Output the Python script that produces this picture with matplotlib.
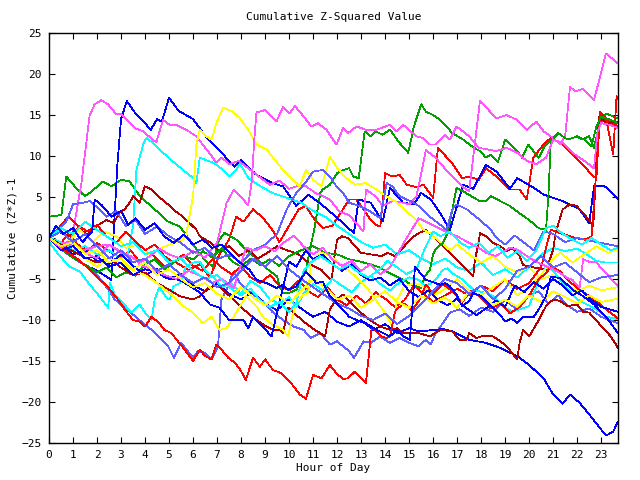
import numpy as np
import matplotlib
matplotlib.use("Agg")
import matplotlib.pyplot as plt

# each series: (hour, cumulative value) pairs
magenta_1 = [(0, 0), (0.5, -0.5), (0.9, -1.0), (1.35, 6.7), (1.69, 14.9), (1.9, 16.3), (2.18, 16.8), (2.46, 16.3),
             (2.8, 15.1), (3.0, 15.1), (3.23, 14.4), (3.57, 13.4), (3.92, 13.0), (4.4, 11.8), (4.47, 11.7), (4.75, 14.4),
             (5.03, 13.8), (5.3, 13.8), (5.72, 13.2), (6.13, 12.4), (6.62, 10.6), (6.97, 9.2), (7.18, 9.8), (7.53, 9.0),
             (7.9, 9.4), (8.3, 8.5), (8.7, 7.6), (9.2, 6.5), (9.6, 7.0), (10.0, 6.0), (10.3, 6.3), (10.7, 6.3),
             (11.1, 5.5), (11.7, 4.7), (12.1, 3.2), (12.5, 2.8), (12.8, 1.8), (13.1, 0.8), (13.2, 5.9), (13.6, 5.1),
             (13.9, 3.9), (14.3, 4.5), (14.75, 4.3), (15.0, 4.1), (15.3, 5.0), (15.7, 10.7), (16.1, 9.8), (16.6, 8.1),
             (17.2, 6.3), (17.5, 5.7), (17.95, 16.7), (18.64, 14.6), (19.06, 15.0), (19.5, 14.4), (19.9, 13.2),
             (20.3, 14.2), (20.6, 13.0), (21.0, 12.2), (21.3, 11.4), (21.5, 12.5), (21.7, 18.4), (21.95, 17.9),
             (22.25, 18.2), (22.7, 16.8), (23.2, 22.5), (23.7, 21.3)]
magenta_2 = [(0, 0), (0.4, -0.8), (0.9, -0.4), (1.4, -1.5), (2.0, -1.0), (2.5, -0.8), (3.0, -1.8), (3.4, -2.2),
             (3.8, -3.0), (4.2, -2.2), (4.6, -1.3), (5.0, -2.0), (5.5, -2.5), (6.0, -1.6), (6.5, -2.4), (7.0, -0.6),
             (7.4, 4.3), (7.7, 5.9), (8.0, 5.0), (8.3, 4.0), (8.45, 7.0), (8.55, 12.0), (8.64, 15.3), (8.99, 15.6),
             (9.47, 14.2), (9.75, 16.0), (10.03, 15.2), (10.24, 16.1), (10.5, 15.2), (10.93, 13.6), (11.2, 14.0),
             (11.56, 13.2), (11.97, 11.4), (12.25, 13.4), (12.46, 12.8), (12.81, 13.6), (13.2, 13.2), (13.64, 13.2),
             (14.2, 13.8), (14.47, 13.0), (14.75, 13.8), (15.3, 12.4), (15.58, 12.2), (15.85, 11.4), (16.1, 11.4),
             (16.5, 12.6), (16.7, 12.0), (16.98, 13.6), (17.5, 12.4), (17.9, 11.0), (18.64, 10.6), (19.06, 11.0),
             (19.5, 10.4), (19.9, 9.4), (20.3, 9.0), (20.7, 9.8), (21.0, 12.0), (21.4, 11.6), (21.9, 10.2),
             (22.3, 9.4), (22.7, 8.5), (22.85, 13.0), (23.0, 14.0), (23.35, 13.8), (23.7, 13.4)]
magenta_3 = [(0, 0), (0.5, -1.2), (1.0, -0.5), (1.5, -1.8), (2.0, -2.5), (2.5, -0.8), (2.95, -1.6), (3.2, -2.0),
             (3.6, -2.6), (3.8, -3.3), (4.3, -3.8), (4.8, -4.5), (5.3, -5.0), (5.8, -4.0), (6.3, -4.6), (6.8, -5.5),
             (7.2, -5.0), (7.7, -6.1), (8.2, -1.2), (8.6, -1.5), (9.0, -1.0), (9.4, -1.6), (9.8, -0.5), (10.2, 0.3),
             (10.6, -1.0), (11.0, -2.0), (11.4, -1.2), (11.8, -2.6), (12.2, -3.4), (12.6, -2.8), (13.0, -4.0),
             (13.4, -3.2), (13.8, -4.4), (14.2, -3.6), (14.6, -1.5), (15.0, 0.5), (15.4, 2.4), (15.7, 2.0),
             (16.1, 1.4), (16.5, 0.8), (17.0, 0.2), (17.5, -0.6), (17.9, -1.2), (18.2, -1.8), (18.6, -2.2),
             (19.2, -1.2), (19.5, -1.4), (20.0, -2.4), (20.5, -3.2), (21.0, -3.8), (21.3, -4.3), (21.6, -4.9),
             (21.8, -5.1), (22.1, -6.1), (22.25, -2.6), (22.5, -2.9), (22.8, -3.0), (23.2, -4.3), (23.7, -5.9)]

blue_1 = [(0, 0), (0.5, -1.0), (1.0, -2.3), (1.5, -3.3), (2.0, -4.0), (2.6, -5.1), (2.7, 1.0), (2.85, 9.0),
          (3.0, 14.5), (3.24, 16.7), (3.6, 15.2), (4.0, 14.0), (4.24, 13.2), (4.5, 14.5), (4.7, 14.2), (5.0, 17.1),
          (5.4, 15.5), (6.0, 14.5), (6.5, 12.5), (7.0, 11.0), (7.53, 9.3), (7.74, 8.7), (8.0, 9.5), (8.64, 7.7),
          (9.3, 6.7), (9.75, 6.3), (10.3, 3.9), (10.8, 5.3), (11.35, 4.1), (12.1, 2.2), (12.7, 0.6), (12.9, 4.7),
          (13.4, 4.3), (13.9, 2.0), (14.2, 6.1), (14.75, 4.3), (15.2, 4.1), (15.5, 5.5), (15.9, 4.7), (16.3, 3.0),
          (16.7, 1.0), (17.25, 6.5), (17.67, 6.0), (18.2, 8.9), (18.64, 8.1), (19.2, 6.0), (19.5, 7.3), (20.2, 6.1),
          (20.6, 5.3), (21.4, 4.5), (22.1, 3.5), (22.5, 1.8), (22.7, 6.3), (23.15, 6.3), (23.7, 4.8)]
blue_2 = [(0, 0), (0.5, -0.8), (1.0, -2.0), (1.5, -1.5), (2.0, -2.8), (2.5, -3.2), (3.0, -2.0), (3.5, -3.4),
          (4.0, -4.5), (4.5, -3.8), (5.0, -5.0), (5.5, -4.4), (6.0, -5.8), (6.5, -6.5), (7.0, -5.5), (7.5, -6.8),
          (8.0, -7.5), (8.5, -6.6), (9.0, -8.0), (9.5, -8.8), (10.0, -7.5), (10.5, -8.6), (11.0, -9.6), (11.5, -9.0),
          (12.0, -10.2), (12.5, -10.8), (13.0, -10.0), (13.5, -11.2), (14.0, -10.5), (14.5, -11.6), (15.0, -11.0),
          (15.4, -11.4), (16.07, -11.2), (16.4, -11.1), (16.8, -11.4), (17.5, -12.4), (18.2, -12.8), (18.8, -13.4),
          (19.5, -14.4), (20.0, -15.5), (20.6, -17.1), (21.0, -19.1), (21.4, -20.2), (21.7, -19.1), (22.1, -20.1),
          (22.5, -21.5), (22.9, -23.0), (23.2, -24.1), (23.5, -23.6), (23.7, -22.4)]
blue_3 = [(0, 0), (0.5, -1.5), (1.0, -1.0), (1.5, -2.5), (2.0, -2.2), (2.5, -3.5), (3.0, -3.0), (3.5, -4.5),
          (4.0, -3.8), (4.5, -4.2), (4.9, -4.9), (5.4, -5.1), (5.8, -5.7), (6.3, -6.7), (6.7, -8.1), (7.1, -8.5),
          (7.5, -10.0), (8.1, -10.0), (8.3, -11.0), (8.5, -9.6), (8.9, -10.8), (9.27, -12.0), (9.5, -9.1),
          (10.0, -2.9), (10.3, -3.5), (10.7, -1.5), (11.0, -2.6), (11.4, -2.0), (11.8, -3.2), (12.2, -4.0),
          (12.6, -3.2), (13.0, -4.5), (13.4, -5.2), (13.8, -4.8), (14.2, -5.8), (14.6, -5.0), (15.0, -6.5),
          (15.4, -7.2), (15.8, -6.4), (16.2, -7.6), (16.6, -8.2), (17.0, -7.4), (17.4, -8.6), (17.8, -9.4),
          (18.2, -8.6), (18.6, -7.6), (19.0, -8.4), (19.4, -5.8), (19.8, -6.6), (20.2, -5.4), (20.6, -6.2),
          (21.0, -5.0), (21.4, -5.8), (21.8, -7.0), (22.2, -6.4), (22.6, -7.6), (23.0, -8.4), (23.7, -9.0)]
blue_4 = [(0, 0), (0.3, 1.5), (0.6, 0.5), (1.0, 1.2), (1.4, -0.5), (1.8, 0.8), (1.9, 4.7), (2.2, 4.0), (2.6, 2.6),
          (3.0, 3.3), (3.3, 1.6), (3.6, 2.4), (4.0, 1.0), (4.4, 1.8), (4.8, 0.2), (5.2, -0.6), (5.6, 0.4),
          (6.0, -0.8), (6.4, -0.2), (6.8, -1.2), (7.2, -0.8), (7.53, -1.8), (7.95, -3.0), (8.36, -3.9), (8.64, -5.1),
          (9.06, -5.5), (9.47, -6.1), (9.75, -5.7), (9.96, -6.3), (10.3, -5.9), (10.7, -4.1), (11.14, -5.5),
          (11.4, -5.3), (11.7, -7.1), (12.1, -8.3), (12.5, -9.6), (12.8, -10.0), (13.2, -10.4), (13.64, -11.2),
          (14.2, -12.0), (14.5, -11.2), (14.75, -12.0), (15.03, -12.4), (15.17, -7.1), (15.24, -3.5), (15.7, -5.1),
          (15.9, -5.3), (16.3, -5.7), (16.5, -5.5), (16.7, -5.9), (16.97, -6.9), (17.2, -8.3), (17.5, -7.7),
          (17.67, -6.7), (18.0, -7.1), (18.2, -7.7), (18.4, -8.3), (18.8, -9.4), (19.0, -10.2), (19.27, -9.8),
          (19.5, -10.4), (19.75, -9.6), (20.2, -9.6), (20.4, -8.7), (20.7, -7.1), (20.9, -4.7), (21.3, -4.9),
          (21.8, -6.3), (22.25, -7.1), (22.7, -8.1), (23.2, -9.6), (23.7, -11.6)]

ltblue_1 = [(0, 0), (0.4, -1.2), (0.8, -2.0), (1.2, -2.8), (1.6, -3.5), (2.0, -4.5), (2.4, -6.0), (2.74, -7.5),
            (3.4, -9.1), (4.0, -10.6), (4.27, -11.2), (4.7, -12.4), (4.96, -13.2), (5.2, -14.6), (5.5, -12.8),
            (6.0, -14.6), (6.2, -13.8), (6.5, -14.0), (6.77, -14.8), (7.04, -13.2), (7.18, -7.5), (7.46, -5.9),
            (7.6, -4.7), (7.74, -4.3), (7.95, -5.5), (8.4, -6.7), (8.9, -7.7), (9.3, -9.0), (9.75, -10.0),
            (10.2, -10.8), (10.6, -11.2), (10.9, -12.2), (11.3, -11.6), (11.7, -13.0), (12.0, -12.6), (12.5, -13.8),
            (12.7, -14.6), (12.95, -13.4), (13.1, -12.6), (13.4, -12.8), (13.8, -12.0), (14.2, -12.8), (14.6, -12.2),
            (15.0, -12.8), (15.4, -13.2), (15.7, -12.4), (15.9, -13.0), (16.1, -11.6), (16.4, -10.4), (16.7, -9.1),
            (17.1, -8.7), (17.5, -9.5), (18.0, -8.5), (18.5, -9.0), (19.0, -7.5), (19.5, -8.8), (20.0, -7.0),
            (20.4, -6.5), (20.8, -8.0), (21.2, -7.0), (21.6, -8.2), (22.0, -9.0), (22.5, -8.6), (23.0, -9.6),
            (23.7, -10.4)]
ltblue_2 = [(0, 0), (0.4, 1.0), (0.72, 2.0), (1.0, 4.1), (1.4, 4.3), (1.7, 4.5), (2.1, 3.5), (2.4, 2.6), (2.8, 3.3),
            (3.2, 1.5), (3.6, 2.2), (4.0, 0.5), (4.5, 1.4), (5.0, 0.2), (5.5, -0.6), (6.0, -1.8), (6.5, -1.2),
            (7.0, -2.6), (7.5, -2.0), (8.0, -3.0), (8.5, -1.5), (9.0, -0.8), (9.5, 0.5), (9.9, 3.5), (10.3, 5.5),
            (10.7, 6.8), (11.0, 8.1), (11.4, 8.3), (11.7, 7.5), (11.97, 6.3), (12.25, 5.5), (12.5, 4.3), (12.95, 3.9),
            (13.4, 3.2), (13.8, 2.4), (14.06, 6.7), (14.3, 6.3), (14.6, 5.1), (14.9, 4.7), (15.2, 4.3), (15.4, 3.9),
            (15.86, 2.6), (16.3, 1.6), (16.56, 1.0), (16.8, 3.5), (16.97, 4.1), (17.4, 3.5), (17.95, 2.2),
            (18.4, 1.0), (18.64, 0.0), (19.0, -0.8), (19.4, 0.3), (19.8, -0.6), (20.2, -1.5), (20.6, 0.8),
            (21.0, 0.5), (21.5, -0.5), (22.0, 0.0), (22.5, -0.3), (23.0, -0.6), (23.7, -1.0)]
ltblue_3 = [(0, 0), (0.5, 0.8), (1.0, -0.5), (1.5, 0.5), (2.0, -1.0), (2.5, -2.5), (3.0, -1.5), (3.5, -3.0),
            (4.0, -2.5), (4.5, -4.0), (5.0, -3.2), (5.5, -4.5), (6.0, -5.5), (6.5, -4.8), (7.0, -6.0), (7.5, -5.5),
            (8.0, -4.0), (8.5, -2.5), (9.0, -3.5), (9.5, -2.2), (10.0, -3.8), (10.5, -5.0), (11.0, -6.0),
            (11.5, -7.0), (12.0, -8.0), (12.5, -8.6), (13.0, -9.5), (13.5, -10.0), (14.0, -9.2), (14.5, -10.5),
            (15.0, -9.5), (15.5, -8.0), (16.0, -6.5), (16.5, -5.0), (17.0, -5.5), (17.5, -6.8), (18.0, -5.8),
            (18.5, -7.5), (19.0, -6.2), (19.5, -4.0), (20.0, -3.5), (20.5, -2.2), (21.0, -3.6), (21.5, -3.0),
            (22.0, -4.2), (22.5, -5.4), (23.0, -4.8), (23.7, -4.5)]

red_1 = [(0, 0), (0.4, -1.0), (0.8, 0.5), (1.2, -0.8), (1.6, -1.5), (2.0, -0.6), (2.5, -1.6), (3.0, -2.4),
         (3.4, -1.5), (3.8, -3.0), (4.3, -2.0), (4.8, -3.5), (5.2, -2.8), (5.8, -3.9), (6.3, -3.2), (6.7, -4.8),
         (7.1, -2.0), (7.5, -0.2), (7.8, 2.6), (8.1, 2.0), (8.5, 3.5), (8.9, 2.5), (9.3, 1.0), (9.6, -0.5),
         (10.0, 1.5), (10.4, 3.5), (10.7, 3.9), (11.0, 2.5), (11.4, 1.2), (11.8, 1.5), (12.2, 3.3), (12.5, 4.7),
         (12.8, 4.7), (13.1, 3.5), (13.4, 2.2), (13.6, 1.6), (13.8, 1.4), (14.0, 7.9), (14.3, 7.5), (14.6, 7.7),
         (14.9, 6.5), (15.3, 6.2), (15.6, 6.5), (16.0, 4.9), (16.2, 11.0), (16.8, 9.1), (17.2, 7.3), (17.5, 7.5),
         (17.9, 7.1), (18.2, 8.5), (18.64, 7.5), (19.2, 5.9), (19.6, 5.9), (19.9, 4.7), (20.17, 9.8), (20.6, 11.4),
         (20.9, 12.2), (21.3, 11.6), (21.8, 10.2), (22.25, 8.9), (22.67, 7.5), (22.8, 7.3), (22.95, 15.2),
         (23.2, 14.4), (23.7, 13.6)]
red_2 = [(0, 0), (0.4, 1.2), (0.8, 2.6), (1.2, 1.5), (1.6, 0.8), (2.0, 1.6), (2.4, 0.2), (2.8, -0.6), (3.2, 0.8),
         (3.6, -0.4), (4.0, -1.5), (4.4, -0.8), (4.8, -2.2), (5.2, -3.0), (5.6, -2.0), (6.0, -3.4), (6.4, -4.0),
         (6.8, -2.6), (7.2, -3.6), (7.6, -4.4), (8.0, -3.5), (8.4, -4.8), (8.8, -5.5), (9.2, -4.5), (9.6, -5.8),
         (10.0, -6.4), (10.4, -5.2), (10.8, -6.5), (11.2, -7.2), (11.6, -6.0), (12.0, -7.5), (12.4, -8.2),
         (12.8, -7.0), (13.2, -8.0), (13.6, -6.6), (14.0, -7.4), (14.4, -8.4), (14.8, -7.6), (15.2, -5.8),
         (15.6, -6.8), (16.0, -7.8), (16.5, -7.0), (17.0, -6.2), (17.5, -7.0), (18.0, -5.8), (18.5, -6.5),
         (19.0, -5.0), (19.5, -6.2), (20.0, -5.5), (20.5, -3.5), (20.9, 1.0), (21.4, 0.5), (21.9, 0.0),
         (22.3, -0.2), (22.6, 0.2), (22.77, 7.1), (22.95, 15.4), (23.2, 14.6), (23.5, 10.2), (23.64, 17.3),
         (23.7, 17.0)]
red_3 = [(0, 0), (0.4, -0.8), (0.8, -1.8), (1.2, -2.6), (1.6, -3.6), (2.0, -4.8), (2.4, -5.8), (2.87, -7.5),
         (3.15, -8.7), (3.5, -10.0), (3.78, -10.2), (4.0, -10.8), (4.27, -9.6), (4.6, -10.4), (4.8, -11.2),
         (5.1, -11.6), (5.37, -12.6), (5.65, -13.6), (6.0, -15.0), (6.28, -13.6), (6.5, -14.4), (6.77, -14.8),
         (6.97, -13.0), (7.18, -13.6), (7.46, -14.6), (7.74, -15.2), (7.95, -16.0), (8.2, -17.3), (8.5, -14.6),
         (8.78, -15.7), (9.0, -14.8), (9.33, -16.1), (9.68, -16.5), (10.03, -17.5), (10.45, -19.1), (10.7, -19.6),
         (11.0, -16.7), (11.35, -17.1), (11.7, -15.5), (11.97, -16.5), (12.25, -17.2), (12.46, -17.1),
         (12.74, -16.3), (12.95, -16.9), (13.2, -17.7), (13.43, -11.2), (13.5, -11.0), (13.85, -12.0),
         (14.06, -12.2), (14.2, -12.0), (14.4, -9.1), (14.47, -8.7), (14.8, -8.0), (15.1, -8.9), (15.4, -7.7),
         (15.7, -5.7), (16.0, -6.8), (16.4, -5.6), (16.8, -6.5), (17.2, -7.8), (17.6, -6.4), (18.0, -7.3),
         (18.4, -8.6), (18.8, -8.0), (19.2, -9.2), (19.6, -8.4), (20.0, -7.0), (20.4, -5.0), (20.7, -4.3),
         (20.9, -3.5), (21.3, -4.1), (21.6, -5.1), (22.0, -6.1), (22.4, -6.9), (22.8, -7.7), (23.2, -8.7),
         (23.7, -9.8)]

darkred_1 = [(0, 0), (0.4, 0.8), (0.8, 0.2), (1.2, 1.2), (1.6, 0.4), (2.0, 1.5), (2.4, 2.2), (2.7, 1.8),
             (2.95, 3.2), (3.15, 3.5), (3.36, 4.3), (3.5, 5.1), (3.78, 4.3), (3.99, 6.3), (4.27, 5.9), (4.54, 5.1),
             (4.8, 4.5), (5.03, 3.9), (5.3, 3.2), (5.58, 2.6), (5.86, 1.8), (6.14, 1.0), (6.28, 0.2), (6.7, -0.5),
             (7.1, -1.6), (7.5, -1.0), (7.9, -2.2), (8.3, -1.5), (8.7, -2.5), (9.1, -1.8), (9.5, -1.0), (9.9, -1.5),
             (10.24, -1.8), (10.5, -2.2), (10.8, -3.0), (11.07, -3.5), (11.35, -3.9), (11.6, -4.7), (11.77, -5.1),
             (11.9, -2.0), (12.0, -0.2), (12.2, 0.2), (12.46, 0.0), (12.74, -1.0), (13.0, -1.8), (13.4, -2.0),
             (13.85, -2.2), (14.1, -1.8), (14.4, -2.2), (14.8, -1.0), (15.1, 0.0), (15.4, 0.6), (15.7, 1.0),
             (16.0, 0.2), (16.3, -0.6), (16.56, -1.4), (16.83, -2.2), (17.1, -3.0), (17.4, -3.9), (17.67, -4.7),
             (17.74, -2.6), (17.9, -0.6), (17.95, 0.6), (18.2, 0.2), (18.5, -0.6), (18.8, -1.0), (19.06, -1.6),
             (19.3, -1.2), (19.6, -2.2), (19.75, -3.3), (20.2, -3.6), (20.7, -3.9), (20.86, -2.6), (21.0, -1.4),
             (21.1, 0.6), (21.3, 2.6), (21.4, 3.5), (21.7, 4.1), (21.98, 3.9), (22.25, 3.0), (22.5, 2.2),
             (22.67, 1.4), (22.74, 5.5), (22.8, 9.5), (22.9, 14.8), (23.2, 14.0), (23.7, 14.2)]
darkred_2 = [(0, 0), (0.5, -0.8), (1.0, -1.6), (1.5, -2.4), (2.0, -3.0), (2.5, -2.4), (3.0, -3.6), (3.5, -4.5),
             (4.0, -4.2), (4.5, -5.5), (5.0, -6.3), (5.45, -7.1), (6.0, -7.5), (6.28, -7.1), (6.7, -5.9), (7.1, -5.9),
             (7.53, -7.1), (8.1, -8.7), (8.64, -10.0), (9.06, -10.8), (9.33, -11.2), (9.6, -11.2), (9.75, -11.6),
             (9.96, -8.5), (10.3, -9.4), (10.7, -10.4), (11.07, -11.2), (11.3, -11.6), (11.5, -12.0), (11.7, -8.7),
             (11.97, -7.5), (12.25, -6.9), (12.5, -7.7), (12.95, -9.0), (13.36, -10.0), (13.8, -10.8), (14.2, -11.2),
             (14.5, -11.0), (14.75, -11.6), (15.4, -11.6), (15.86, -12.0), (16.3, -11.2), (16.8, -11.4),
             (17.1, -12.4), (17.4, -12.4), (17.5, -11.6), (17.8, -12.2), (18.1, -11.9), (18.5, -12.0), (18.8, -12.6),
             (19.06, -13.2), (19.5, -14.8), (19.6, -12.8), (19.75, -11.2), (20.0, -12.0), (20.4, -10.0),
             (20.7, -8.3), (21.0, -7.5), (21.3, -7.7), (21.6, -8.3), (22.0, -8.1), (22.25, -9.0), (22.5, -9.1),
             (22.9, -10.4), (23.4, -12.0), (23.7, -13.4)]

green_1 = [(0, 2.6), (0.52, 2.8), (0.72, 7.5), (1.07, 6.3), (1.49, 5.1), (1.7, 5.5), (2.25, 6.9), (2.6, 6.3),
           (3.0, 7.1), (3.36, 6.9), (3.78, 5.1), (4.4, 3.5), (4.96, 2.0), (5.45, 1.4), (5.65, 0.6), (6.0, -0.8),
           (6.3, -2.0), (6.6, -3.0), (6.83, -3.5), (6.97, -1.2), (7.1, -0.2), (7.3, 0.6), (7.46, 0.4), (7.8, -0.2),
           (8.2, -1.4), (8.6, -2.4), (9.06, -3.7), (9.5, -4.7), (9.6, -5.9), (9.75, -6.7), (10.0, -6.7),
           (10.3, -6.3), (10.7, -3.9), (10.9, -1.0), (11.07, 1.4), (11.3, 5.5), (11.4, 5.9), (11.7, 6.5),
           (12.0, 7.9), (12.25, 8.3), (12.5, 8.5), (12.67, 7.5), (12.9, 7.3), (13.15, 13.0), (13.4, 12.4),
           (13.6, 13.0), (13.9, 12.6), (14.2, 13.2), (14.6, 11.6), (14.96, 10.4), (15.2, 13.6), (15.5, 16.3),
           (15.7, 15.4), (16.0, 15.0), (16.3, 14.4), (16.8, 12.8), (17.25, 12.0), (17.7, 11.0), (17.95, 10.6),
           (18.2, 9.8), (18.4, 10.2), (18.7, 9.3), (19.0, 12.0), (19.5, 10.6), (19.7, 9.8), (19.96, 11.4),
           (20.4, 9.8), (20.65, 11.2), (21.2, 12.8), (21.6, 12.0), (22.0, 12.4), (22.2, 12.0), (22.5, 12.4),
           (22.7, 11.0), (22.9, 13.6), (23.2, 15.2), (23.7, 14.6)]
green_2 = [(0, 0), (0.4, -1.0), (0.8, -2.0), (1.2, -2.8), (1.6, -3.4), (2.0, -4.2), (2.4, -3.6), (2.8, -4.8),
           (3.2, -4.2), (3.6, -4.6), (4.0, -3.2), (4.4, -2.6), (4.8, -3.8), (5.2, -3.0), (5.6, -2.2), (6.0, -2.6),
           (6.4, -1.6), (6.8, -2.4), (7.2, -1.2), (7.6, -2.8), (8.0, -3.5), (8.4, -2.5), (8.8, -3.3), (9.2, -2.6),
           (9.6, -3.4), (10.0, -2.2), (10.5, -1.5), (11.0, -1.0), (11.5, -1.8), (12.0, -2.0), (12.5, -2.6),
           (13.0, -2.9), (13.7, -3.5), (14.2, -4.3), (14.7, -5.0), (15.1, -5.7), (15.5, -6.1), (15.65, -4.7),
           (15.86, -3.9), (16.0, -2.0), (16.1, -1.4), (16.4, -0.6), (16.6, 0.6), (16.77, 3.0), (16.97, 6.1),
           (17.25, 5.7), (17.7, 4.9), (17.95, 4.5), (18.2, 4.5), (18.4, 5.1), (18.8, 4.5), (19.2, 3.9), (19.6, 3.0),
           (20.0, 2.2), (20.4, 1.2), (20.7, 1.0), (20.8, 5.1), (20.9, 11.6), (21.2, 12.8), (21.6, 12.0),
           (22.0, 12.4), (22.3, 12.0), (22.6, 11.2), (22.8, 13.6), (23.0, 14.8), (23.4, 14.4), (23.7, 14.0)]

yellow_1 = [(0, 0), (0.4, -1.0), (0.8, -0.4), (1.3, 1.0), (1.8, -0.5), (2.3, 0.8), (2.8, 0.2), (3.2, -1.2),
            (3.7, -0.8), (4.2, -2.0), (4.7, -1.2), (5.2, -0.6), (5.5, -0.3), (5.7, 0.2), (6.0, 5.1), (6.14, 11.4),
            (6.28, 13.2), (6.56, 12.4), (6.77, 12.0), (6.97, 14.0), (7.25, 15.9), (7.67, 15.4), (7.95, 14.6),
            (8.3, 13.2), (8.64, 11.4), (9.06, 10.8), (9.33, 9.8), (9.75, 8.3), (10.17, 7.1), (10.45, 6.3),
            (10.7, 8.3), (11.0, 7.1), (11.35, 6.3), (11.7, 9.9), (11.97, 8.7), (12.3, 7.5), (12.74, 6.5),
            (13.2, 6.7), (13.64, 5.9), (14.06, 5.1), (14.5, 4.3), (14.9, 3.2), (15.3, 2.2), (15.6, 1.0),
            (15.86, 0.6), (16.3, -0.5), (16.7, -1.5), (17.0, -0.8), (17.5, -2.0), (18.0, -3.0), (18.5, -2.2),
            (19.0, -3.5), (19.5, -4.2), (20.0, -3.5), (20.5, -5.0), (21.0, -4.5), (21.5, -5.5), (22.0, -6.5),
            (22.5, -5.8), (23.0, -6.4), (23.7, -6.0)]
yellow_2 = [(0, 0), (0.5, -1.5), (1.0, -1.0), (1.5, -2.5), (2.0, -3.5), (2.5, -2.5), (3.0, -3.0), (3.5, -4.0),
            (4.0, -4.5), (4.5, -5.5), (5.17, -7.1), (5.58, -8.3), (6.0, -9.1), (6.4, -10.4), (6.77, -9.6),
            (7.1, -11.2), (7.4, -11.0), (7.8, -9.1), (8.2, -7.1), (8.64, -8.3), (8.9, -9.6), (9.33, -10.6),
            (9.75, -11.2), (9.96, -12.0), (10.1, -10.0), (10.3, -7.9), (10.6, -6.9), (10.8, -6.7), (10.86, -4.7),
            (10.9, -3.0), (11.3, -1.8), (11.6, -2.0), (11.9, -2.6), (12.46, -3.9), (12.9, -5.1), (13.3, -6.3),
            (13.7, -7.9), (14.1, -9.6), (14.3, -10.8), (14.4, -9.6), (14.5, -7.5), (14.8, -5.9), (15.2, -5.5),
            (15.5, -5.7), (16.0, -7.0), (16.5, -6.2), (17.0, -5.0), (17.5, -6.5), (18.0, -7.0), (18.5, -6.0),
            (19.0, -5.0), (19.5, -7.0), (20.0, -6.0), (20.5, -4.5), (21.0, -2.5), (21.3, -1.8), (21.8, -3.0),
            (22.3, -2.0), (22.8, -1.0), (23.3, -1.8), (23.7, -1.4)]
yellow_3 = [(0, 0), (0.5, -1.0), (1.0, -0.5), (1.5, -2.0), (2.0, -1.5), (2.5, -3.0), (3.0, -2.5), (3.5, -3.8),
            (4.0, -3.0), (4.5, -4.5), (5.0, -3.8), (5.5, -5.0), (6.0, -6.0), (6.5, -5.5), (7.0, -6.8), (7.5, -7.5),
            (8.0, -6.0), (8.5, -7.2), (9.0, -8.2), (9.5, -7.0), (10.0, -8.0), (10.5, -6.5), (11.0, -5.0),
            (11.5, -6.0), (12.0, -7.5), (12.5, -7.0), (13.0, -8.5), (13.5, -7.5), (14.0, -6.5), (14.5, -7.8),
            (15.0, -8.5), (15.5, -7.0), (16.0, -8.0), (16.5, -7.2), (17.0, -8.5), (17.5, -6.5), (18.0, -7.0),
            (18.5, -8.2), (19.0, -7.5), (19.5, -8.4), (20.0, -7.0), (20.5, -7.8), (21.0, -6.5), (21.5, -7.2),
            (22.0, -8.0), (22.5, -7.0), (23.0, -7.8), (23.7, -7.4)]

cyan_1 = [(0, 0), (0.5, -0.5), (1.0, -1.5), (1.5, -1.0), (2.0, -2.0), (2.5, -1.5), (3.0, -2.5), (3.3, -1.8),
          (3.5, 1.5), (3.64, 8.3), (3.92, 11.4), (4.06, 12.2), (4.33, 11.6), (4.75, 10.4), (5.17, 9.3), (5.58, 8.3),
          (6.0, 7.3), (6.14, 6.7), (6.28, 9.8), (6.9, 9.1), (7.25, 8.3), (7.53, 7.5), (7.8, 8.3), (7.95, 9.1),
          (8.3, 7.3), (8.7, 6.5), (9.3, 5.5), (9.9, 4.9), (10.5, 4.3), (11.0, 3.3), (11.5, 2.6), (12.0, 1.5),
          (12.5, 0.5), (13.0, -0.5), (13.5, -1.2), (14.0, -0.8), (14.5, -2.0), (15.0, -1.5), (15.5, -2.5),
          (16.0, -3.2), (16.5, -2.5), (17.0, -3.6), (17.5, -4.0), (18.0, -3.0), (18.5, -4.5), (19.0, -3.8),
          (19.5, -4.8), (20.0, -3.5), (20.5, -2.0), (21.0, -1.2), (21.5, -1.6), (22.0, -1.3), (22.4, -2.0),
          (22.8, -2.8), (23.2, -3.0), (23.7, -3.0)]
cyan_2 = [(0, 0), (0.03, -0.6), (0.45, -2.2), (0.86, -3.5), (1.28, -4.1), (1.7, -5.7), (2.1, -7.1), (2.46, -8.5),
          (2.55, -5.5), (2.75, -7.0), (3.1, -8.0), (3.43, -9.1), (3.78, -8.1), (4.0, -9.1), (4.27, -10.0),
          (4.4, -7.5), (4.6, -6.0), (4.9, -7.3), (5.03, -7.5), (5.17, -5.9), (5.45, -5.5), (5.7, -3.5), (6.0, -3.0),
          (6.28, -2.9), (6.56, -4.1), (6.83, -4.7), (7.2, -6.0), (7.6, -5.5), (8.0, -6.8), (8.4, -5.2),
          (8.8, -6.0), (9.2, -7.5), (9.6, -8.0), (10.0, -7.2), (10.3, -8.4), (10.6, -6.8), (11.0, -5.6),
          (11.4, -6.4), (11.8, -5.0), (12.2, -5.8), (12.6, -6.6), (13.0, -5.4), (13.4, -4.6), (13.8, -5.6),
          (14.2, -6.4), (14.6, -5.4), (15.0, -4.8), (15.4, -5.1), (15.7, -5.9), (16.1, -5.1), (16.4, -3.9),
          (16.6, -3.7), (16.8, -4.3), (17.25, -5.1), (17.67, -6.3), (18.2, -6.7), (18.5, -7.1), (18.9, -8.3),
          (19.3, -9.0), (19.6, -8.7), (20.0, -8.3), (20.4, -5.1), (20.7, -3.5), (21.0, -4.0), (21.4, -5.5),
          (21.7, -6.5), (22.0, -7.5), (22.4, -8.1), (22.8, -8.7), (23.2, -9.6), (23.7, -9.9)]
cyan_3 = [(0, 0), (0.5, 1.2), (1.0, 0.5), (1.5, 2.0), (2.0, 1.0), (2.5, 0.0), (3.0, -1.0), (3.5, -0.5),
          (4.0, -2.0), (4.5, -1.5), (5.0, -3.0), (5.5, -2.5), (6.0, -4.0), (6.5, -5.0), (7.0, -4.5), (7.5, -6.0),
          (8.0, -7.0), (8.4, -6.2), (8.8, -7.6), (9.2, -8.4), (9.6, -7.8), (10.0, -9.0), (10.3, -8.0),
          (10.6, -4.0), (10.9, -3.0), (11.3, -2.2), (11.7, -3.0), (12.1, -3.8), (12.5, -3.3), (12.9, -4.2),
          (13.3, -4.8), (13.7, -4.0), (14.1, -2.8), (14.5, -3.6), (14.9, -4.4), (15.3, -3.8), (15.7, -1.0),
          (16.0, 0.8), (16.3, 0.2), (16.7, 0.8), (17.1, -0.5), (17.5, -1.2), (17.9, -0.6), (18.3, -1.8),
          (18.7, -1.0), (19.1, -2.4), (19.5, -1.6), (19.9, -2.8), (20.3, -1.5), (20.7, 1.2), (21.0, 1.5),
          (21.4, 0.5), (21.8, -0.2), (22.2, -0.8), (22.6, 0.0), (23.0, -0.8), (23.4, -1.5), (23.7, -1.2)]

series = [
    (red_1, "#ff0000"), (green_1, "#00a000"), (blue_1, "#0000ff"), (magenta_1, "#ff55ff"),
    (cyan_1, "#00ffff"), (darkred_1, "#b00000"), (yellow_1, "#ffff00"), (ltblue_1, "#5f5fff"),
    (red_2, "#ff0000"), (green_2, "#00a000"), (blue_2, "#0000ff"), (magenta_2, "#ff55ff"),
    (cyan_2, "#00ffff"), (darkred_2, "#b00000"), (yellow_2, "#ffff00"), (ltblue_2, "#5f5fff"),
    (red_3, "#ff0000"), (blue_3, "#0000ff"), (magenta_3, "#ff55ff"), (cyan_3, "#00ffff"),
    (yellow_3, "#ffff00"), (ltblue_3, "#5f5fff"), (blue_4, "#0000ff"),
]

plt.rcParams["font.family"] = "DejaVu Sans Mono"

fig = plt.figure(figsize=(6.4, 4.8), dpi=100)
ax = fig.add_axes([49 / 640, 1 - 443 / 480, (618 - 49) / 640, (443 - 33) / 480])

for pts, col in series:
    arr = np.array(pts)
    ax.plot(arr[:, 0], arr[:, 1], color=col, lw=0.55, antialiased=False)

ax.set_xlim(0, 23.7)
ax.set_ylim(-25, 25)
ax.set_xticks(range(24))
ax.set_yticks(range(-25, 26, 5))
ax.tick_params(direction="in", top=True, right=True, length=4, labelsize=8, pad=5)
for s in ax.spines.values():
    s.set_linewidth(1.0)

ax.set_title("Cumulative Z-Squared Value", fontsize=8, pad=9)
ax.set_xlabel("Hour of Day", fontsize=8, labelpad=2)
ax.set_ylabel("Cumulative (Z*Z)-1", fontsize=8, labelpad=3)

fig.savefig("out.png", dpi=100)
